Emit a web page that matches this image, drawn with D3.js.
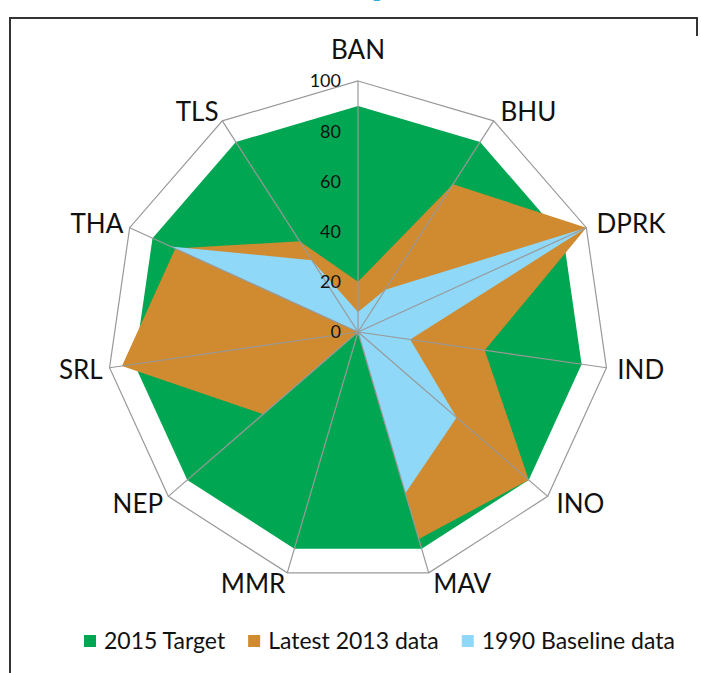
<!DOCTYPE html>
<html>
<head>
<meta charset="utf-8">
<script src="https://cdn.jsdelivr.net/npm/d3@7"></script>
<style>
  body { margin: 0; background: #fff; }
  svg { display: block; font-family: Lato, "Open Sans", sans-serif; }
</style>
</head>
<body>
<div id="chart"></div>
<script>
// Radar data (percent)
const categories = ["BAN", "BHU", "DPRK", "IND", "INO", "MAV", "MMR", "NEP", "SRL", "THA", "TLS"];
const target2015 = [90, 90, 90, 90, 90, 90, 90, 90, 90, 90, 90];
const latest2013 = [20, 70, 100, 51, 90, 86, 0, 50, 95, 80, 43];
const baseline1990 = [8, 20, 100, 21, 52, 67, 0, 0, 0, 82, 34];
const ticks = [0, 20, 40, 60, 80, 100];

const seriesNames = ["2015 Target", "Latest 2013 data", "1990 Baseline data"];
const seriesColors = ["#00a651", "#d08a2f", "#8fd8f8"];

const width = 701, height = 673;
const cx = 358, cy = 332, R = 251;
const n = categories.length;

const svg = d3.select('#chart')
    .append('svg')
    .attr('width', width)
    .attr('height', height);

// frame around the figure
svg.append('path')
    .attr('d', `M10,${height + 5} V18 H697 V36`)
    .attr('fill', 'none')
    .attr('stroke', '#333')
    .attr('stroke-width', 2);

// cut-off title descender in the reference
svg.append('text')
    .attr('x', 377)
    .attr('y', -3)
    .attr('text-anchor', 'middle')
    .attr('font-size', '24px')
    .attr('fill', '#29a9e0')
    .text('g');

const r = d3.scaleLinear().domain([0, 100]).range([0, R]);
const angle = i => i * 2 * Math.PI / n;

const g = svg.append('g').attr('transform', `translate(${cx},${cy})`);

const radial = d3.lineRadial()
    .angle((d, i) => angle(i))
    .radius(d => r(d))
    .curve(d3.curveLinearClosed);

// filled series, target first so the others sit on top
[target2015, latest2013, baseline1990].forEach((values, k) => {
    g.append('path')
        .attr('d', radial(values))
        .attr('fill', seriesColors[k]);
});

// outer ring and spokes
g.append('path')
    .attr('d', radial(categories.map(() => 100)))
    .attr('fill', 'none')
    .attr('stroke', '#999')
    .attr('stroke-width', 1.2);

categories.forEach((c, i) => {
    const a = angle(i);
    g.append('line')
        .attr('x1', 0).attr('y1', 0)
        .attr('x2', Math.sin(a) * r(100))
        .attr('y2', -Math.cos(a) * r(100))
        .attr('stroke', '#999')
        .attr('stroke-width', 1.2);
});

// axis tick labels
g.selectAll('.tick')
    .data(ticks)
    .enter()
    .append('text')
    .attr('x', -17)
    .attr('y', d => -r(d))
    .attr('dy', '0.35em')
    .attr('text-anchor', 'end')
    .attr('font-size', '18px')
    .attr('fill', '#111')
    .text(d => d);

// category labels
categories.forEach((c, i) => {
    const a = angle(i);
    const ux = Math.sin(a), uy = -Math.cos(a);
    const vx = ux * r(100), vy = uy * r(100);
    let anchor = 'middle', x = vx, yc = vy + uy * 11;
    if (ux > 0.2) { anchor = 'start'; x = vx + ux * 9 + 2; }
    else if (ux < -0.2) { anchor = 'end'; x = vx + ux * 7; }
    else { yc = vy + uy * 31; }
    g.append('text')
        .attr('x', x)
        .attr('y', yc)
        .attr('dy', '0.36em')
        .attr('text-anchor', anchor)
        .attr('font-size', '26px')
        .attr('fill', '#111')
        .text(c);
});

// legend
const legend = svg.append('g').attr('transform', 'translate(84,649)');
let lx = 0;
seriesNames.forEach((name, k) => {
    legend.append('rect')
        .attr('x', lx).attr('y', -14)
        .attr('width', 12).attr('height', 12)
        .attr('fill', seriesColors[k]);
    const t = legend.append('text')
        .attr('x', lx + 20)
        .attr('y', 0)
        .attr('font-size', '23px')
        .attr('fill', '#111')
        .text(name);
    lx += 20 + t.node().getComputedTextLength() + 23;
});
</script>
</body>
</html>
